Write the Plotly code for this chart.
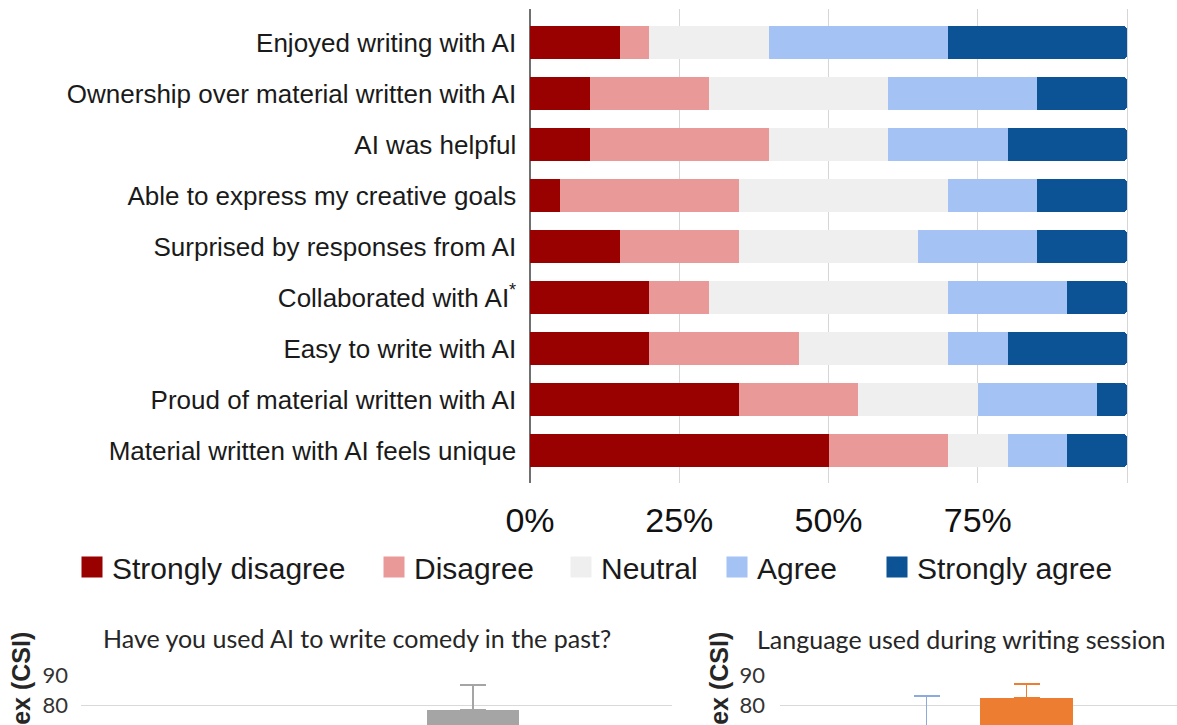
import plotly.graph_objects as go

W, H = 1177, 725

# ---------------- data ----------------
statements = [
    "Enjoyed writing with AI",
    "Ownership over material written with AI",
    "AI was helpful",
    "Able to express my creative goals",
    "Surprised by responses from AI",
    "Collaborated with AI<sup>*</sup>",
    "Easy to write with AI",
    "Proud of material written with AI",
    "Material written with AI feels unique",
]
response_levels = ["Strongly disagree", "Disagree", "Neutral", "Agree", "Strongly agree"]
strongly_disagree = [15, 10, 10, 5, 15, 20, 20, 35, 50]
disagree = [5, 20, 30, 30, 20, 10, 25, 20, 20]
neutral = [20, 30, 20, 35, 30, 40, 25, 20, 10]
agree = [30, 25, 20, 15, 20, 20, 10, 20, 10]
strongly_agree = [30, 15, 20, 15, 15, 10, 20, 5, 10]
pct_ticks = [0, 25, 50, 75]
pct_tick_labels = ["0%", "25%", "50%", "75%"]
pct_extra_grid = [100]

comedy_title = "Have you used AI to write comedy in the past?"
comedy_groups = ["Group A", "Group B", "Group C"]
comedy_csi = [None, None, 78.3]
comedy_err = [None, None, 8.3]

language_title = "Language used during writing session"
language_groups = ["Group A", "Group B"]
language_csi = [72.0, 82.3]
language_err = [11.0, 4.7]

csi_label = "Creativity Support Index (CSI)"

# ---------------- style ----------------
likert_colors = ["#990000", "#EA9999", "#EFEFEF", "#A4C2F4", "#0B5394"]
group_colors = ["#5B9BD5", "#ED7D31", "#A5A5A5"]
err_colors = ["#8EA9DB", "#ED7D31", "#A5A5A5"]
legend_left_px = [72, 374, 561, 717, 877]
legend_ids = ["legend", "legend2", "legend3", "legend4", "legend5"]


def px_x(p):
    return p / W


def px_y(p):
    return 1 - p / H


fig = go.Figure()

series = [strongly_disagree, disagree, neutral, agree, strongly_agree]
for i, (name, vals) in enumerate(zip(response_levels, series)):
    marker = dict(color=likert_colors[i], line=dict(width=0))
    if i == len(series) - 1:
        marker["cornerradius"] = 4
    fig.add_trace(go.Bar(
        x=vals, y=statements, orientation="h", name=name,
        marker=marker, showlegend=False, xaxis="x", yaxis="y",
        hovertemplate="%{y}: %{x}%<extra>" + name + "</extra>",
    ))

# legend entries (square swatches), one legend box per entry
for i, name in enumerate(response_levels):
    fig.add_trace(go.Scatter(
        x=[None], y=[None], mode="markers", name=name,
        marker=dict(symbol="square", size=16, color=likert_colors[i],
                    line=dict(width=5, color=likert_colors[i])),
        xaxis="x", yaxis="y", showlegend=True, legend=legend_ids[i],
    ))

# bottom-left chart
for i, g in enumerate(comedy_groups):
    fig.add_trace(go.Bar(
        x=[g], y=[comedy_csi[i]], width=0.92, showlegend=False,
        marker=dict(color=group_colors[i], line=dict(width=0)),
        error_y=dict(type="data", symmetric=False, array=[comedy_err[i]],
                     arrayminus=[0], color=err_colors[i], thickness=1.5, width=13),
        xaxis="x2", yaxis="y2",
    ))

# bottom-right chart
for i, g in enumerate(language_groups):
    fig.add_trace(go.Bar(
        x=[g], y=[language_csi[i]], width=0.93, showlegend=False,
        marker=dict(color=group_colors[i], line=dict(width=0)),
        error_y=dict(type="data", symmetric=False, array=[language_err[i]],
                     arrayminus=[0], color=err_colors[i], thickness=1.5, width=13),
        xaxis="x3", yaxis="y3",
    ))

bottom_top = 675
y_lo = 90 - (H - bottom_top) / 3.0

layout = dict(
    width=W, height=H,
    margin=dict(l=0, r=0, t=0, b=0, autoexpand=False),
    paper_bgcolor="white", plot_bgcolor="white",
    barmode="stack", bargap=0.353,
    font=dict(family="Liberation Sans, Arial, sans-serif", color="#1a1a1a"),
    xaxis=dict(
        domain=[px_x(528.2), px_x(1128.8)], range=[-0.3, 100.3],
        tickvals=pct_ticks, ticktext=pct_tick_labels,
        showgrid=True, gridcolor="#D6D6D6", gridwidth=1,
        minor=dict(tickmode="array", tickvals=pct_extra_grid, showgrid=True,
                   gridcolor="#D6D6D6", gridwidth=1, ticks=""),
        zeroline=True, zerolinecolor="#707070", zerolinewidth=1.5,
        showline=False, ticks="", ticklabelstandoff=14,
        tickfont=dict(size=34, color="#111"),
        anchor="y", fixedrange=True, automargin=False,
    ),
    yaxis=dict(
        domain=[px_y(483), px_y(9)],
        categoryorder="array", categoryarray=statements,
        range=[8.637, -0.657],
        showgrid=False, zeroline=False, showline=False, ticks="",
        ticklabelstandoff=11,
        tickfont=dict(size=26, color="#1a1a1a"),
        anchor="x", fixedrange=True, automargin=False,
    ),
    xaxis2=dict(
        domain=[px_x(81), px_x(672)], range=[-1.92, 3.99],
        categoryorder="array", categoryarray=comedy_groups,
        showticklabels=False, showgrid=False, zeroline=False, showline=False,
        ticks="", anchor="y2", automargin=False, fixedrange=True,
    ),
    yaxis2=dict(
        domain=[0, px_y(bottom_top)], range=[y_lo, 90], dtick=10,
        showgrid=True, gridcolor="#D9D9D9", gridwidth=1, zeroline=False,
        showline=False, ticks="", ticklabelstandoff=12,
        tickfont=dict(size=22, color="#333", family="Lato, Open Sans, sans-serif"),
        anchor="x2", automargin=False, fixedrange=True,
    ),
    xaxis3=dict(
        domain=[px_x(780), 1], range=[-1.465, 2.505],
        categoryorder="array", categoryarray=language_groups,
        showticklabels=False, showgrid=False, zeroline=False, showline=False,
        ticks="", anchor="y3", automargin=False, fixedrange=True,
    ),
    yaxis3=dict(
        domain=[0, px_y(bottom_top)], range=[y_lo, 90], dtick=10,
        showgrid=True, gridcolor="#D9D9D9", gridwidth=1, zeroline=False,
        showline=False, ticks="", ticklabelstandoff=14,
        tickfont=dict(size=22, color="#333", family="Lato, Open Sans, sans-serif"),
        anchor="x3", automargin=False, fixedrange=True,
    ),
    showlegend=True,
)
for lid, lx in zip(legend_ids, legend_left_px):
    layout[lid] = dict(
        orientation="h", x=px_x(lx), xanchor="left",
        y=px_y(567), yanchor="middle",
        font=dict(size=30, color="#1a1a1a"),
        bgcolor="rgba(0,0,0,0)", borderwidth=0,
        itemclick=False, itemdoubleclick=False,
    )
fig.update_layout(**layout)

annotations = [
    dict(text=comedy_title, x=px_x(357), y=px_y(638), xref="paper", yref="paper",
         xanchor="center", yanchor="middle", showarrow=False,
         font=dict(size=25, color="#262626", family="Lato, Open Sans, sans-serif")),
    dict(text=language_title, x=px_x(961), y=px_y(639), xref="paper", yref="paper",
         xanchor="center", yanchor="middle", showarrow=False,
         font=dict(size=25, color="#262626", family="Lato, Open Sans, sans-serif")),
    dict(text="<b>" + csi_label + "</b>", x=px_x(21), y=px_y(630), xref="paper", yref="paper",
         xanchor="center", yanchor="top", textangle=-90, showarrow=False,
         font=dict(size=25, color="#262626")),
    dict(text="<b>" + csi_label + "</b>", x=px_x(719), y=px_y(630), xref="paper", yref="paper",
         xanchor="center", yanchor="top", textangle=-90, showarrow=False,
         font=dict(size=25, color="#262626")),
]
fig.update_layout(annotations=annotations)

fig.write_html(
    "out.html",
    config={"displayModeBar": False},
    post_script="document.body.style.margin='0';document.body.style.overflow='hidden';",
)
